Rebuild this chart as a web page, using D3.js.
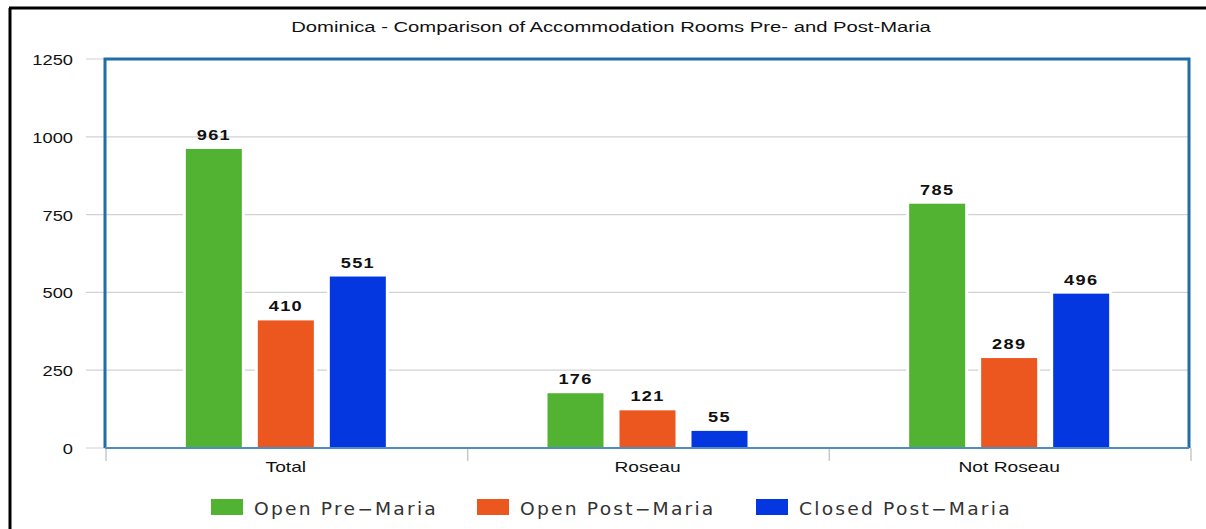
<!DOCTYPE html>
<html>
<head>
<meta charset="utf-8">
<script src="https://cdn.jsdelivr.net/npm/d3@7"></script>
<style>
  body { margin: 0; background: #fff; }
  svg { display: block; }
</style>
</head>
<body>
<div id="chart"></div>
<script>
// data
var categories = ['Total', 'Roseau', 'Not Roseau'];
var seriesNames = ['Open Pre-Maria', 'Open Post-Maria', 'Closed Post-Maria'];
var openPre = [961, 176, 785];
var openPost = [410, 121, 289];
var closedPost = [551, 55, 496];
var yTicks = [0, 250, 500, 750, 1000, 1250];
var colors = ['#52b232', '#ec561f', '#0437df'];

var width = 1206;
var height = 529;
var margin = ({top: 59, right: 16, bottom: 81, left: 105});
var sansFont = 'Liberation Sans, Arial, sans-serif';

var svg = d3.select('#chart')
  .append('svg')
    .attr('width', width)
    .attr('height', height);

// stretched text helper (the source image is widened horizontally)
function addText(sel, x, y, sx) {
  return sel.append('text')
    .attr('transform', `translate(${x},${y}) scale(${sx},1)`);
}

// outer frame (left + top only visible)
svg.append('line')
  .attr('x1', 10).attr('x2', 10).attr('y1', 8).attr('y2', height)
  .attr('stroke', '#000').attr('stroke-width', 3);
svg.append('line')
  .attr('x1', 9).attr('x2', width).attr('y1', 8).attr('y2', 8)
  .attr('stroke', '#000').attr('stroke-width', 3);

addText(svg, 611, 32, 1.35)
  .attr('text-anchor', 'middle')
  .attr('font-family', sansFont)
  .attr('font-size', '15px')
  .attr('fill', '#111')
  .text('Dominica - Comparison of Accommodation Rooms Pre- and Post-Maria');

var x0 = d3.scaleBand()
  .domain(categories)
  .range([margin.left, width - margin.right]);

var x1 = d3.scaleBand()
  .domain(seriesNames)
  .range([0, 200])
  .paddingInner(16 / 72);

var y = d3.scaleLinear()
  .domain([0, 1250])
  .range([height - margin.bottom, margin.top]);

// grid
svg.append('g')
  .selectAll('line')
  .data(yTicks)
  .join('line')
    .attr('x1', 86)
    .attr('x2', width - margin.right)
    .attr('y1', d => y(d))
    .attr('y2', d => y(d))
    .attr('stroke', '#d2d2d2')
    .attr('stroke-width', 1.2);

// y axis labels
yTicks.forEach(function(t) {
  addText(svg, 73, y(t) + 6, 1.22)
    .attr('text-anchor', 'end')
    .attr('font-family', sansFont)
    .attr('font-size', '15px')
    .attr('fill', '#111')
    .text(t);
});

// x ticks
var xTickPos = categories.map(c => x0(c)).concat([width - margin.right]);
svg.append('g')
  .selectAll('line')
  .data(xTickPos)
  .join('line')
    .attr('x1', d => d + 1)
    .attr('x2', d => d + 1)
    .attr('y1', y(0))
    .attr('y2', y(0) + 13)
    .attr('stroke', '#c8c8c8')
    .attr('stroke-width', 1.5);

var rows = [];
categories.forEach(function(c, i) {
  [openPre[i], openPost[i], closedPost[i]].forEach(function(v, j) {
    rows.push({cat: c, series: seriesNames[j], value: v, color: colors[j]});
  });
});

var groupOffset = (x0.bandwidth() - 200) / 2;
var barX = d => x0(d.cat) + groupOffset + x1(d.series);

// white halo behind bars
svg.append('g')
  .selectAll('rect')
  .data(rows)
  .join('rect')
    .attr('x', d => barX(d) - 3)
    .attr('y', d => y(d.value) - 3)
    .attr('width', x1.bandwidth() + 6)
    .attr('height', d => y(0) - y(d.value) + 3)
    .attr('fill', '#fff');

svg.append('g')
  .selectAll('rect')
  .data(rows)
  .join('rect')
    .attr('x', d => barX(d))
    .attr('y', d => y(d.value))
    .attr('width', x1.bandwidth())
    .attr('height', d => y(0) - y(d.value))
    .attr('fill', d => d.color);

// value labels
rows.forEach(function(d) {
  addText(svg, barX(d) + x1.bandwidth() / 2, y(d.value) - 9, 1.3)
    .attr('text-anchor', 'middle')
    .attr('font-family', sansFont)
    .attr('font-weight', 'bold')
    .attr('font-size', '14px')
    .attr('letter-spacing', '1px')
    .attr('fill', '#111')
    .text(d.value);
});

// plot frame
var fx = margin.left, fy = margin.top, fr = width - margin.right - 1;
svg.append('path')
  .attr('d', `M${fx},${y(0)}V${fy}H${fr}V${y(0)}`)
  .attr('fill', 'none')
  .attr('stroke', '#1f6ea8')
  .attr('stroke-width', 3);
svg.append('line')
  .attr('x1', fx).attr('x2', fr)
  .attr('y1', y(0)).attr('y2', y(0))
  .attr('stroke', '#4f8dc0')
  .attr('stroke-width', 2);

// category labels
categories.forEach(function(c) {
  addText(svg, x0(c) + x0.bandwidth() / 2, 472, 1.28)
    .attr('text-anchor', 'middle')
    .attr('font-family', sansFont)
    .attr('font-size', '15px')
    .attr('fill', '#111')
    .text(c);
});

// legend
var legendX = [211, 477, 756];
var legend = svg.append('g')
  .selectAll('g')
  .data(seriesNames)
  .join('g')
    .attr('transform', (d, i) => `translate(${legendX[i]}, 499)`);
legend.append('rect')
  .attr('width', 32)
  .attr('height', 16)
  .attr('fill', (d, i) => colors[i]);
legend.append('text')
  .attr('transform', 'translate(43,16) scale(1.1,1)')
  .attr('font-family', 'DejaVu Sans, sans-serif')
  .attr('font-size', '17px')
  .attr('letter-spacing', '2px')
  .attr('fill', '#333')
  .text(d => d.replace('-', '\u2212'));
</script>
</body>
</html>
